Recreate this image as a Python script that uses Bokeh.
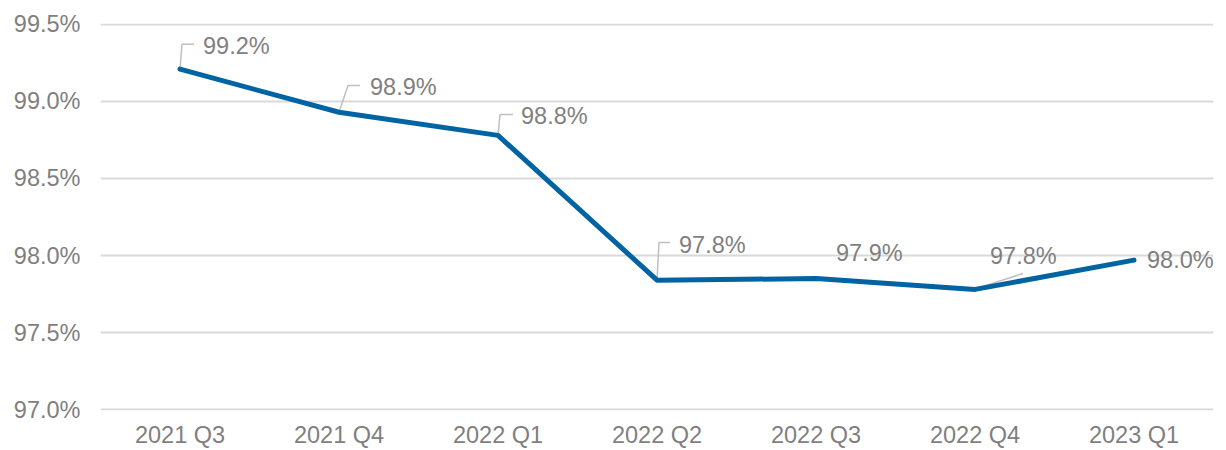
from bokeh.plotting import figure
from bokeh.models import (ColumnDataSource, LabelSet, Range1d, FactorRange,
                          FixedTicker, PrintfTickFormatter)
from bokeh.core.properties import value
from bokeh.embed import file_html
from bokeh.resources import INLINE

# ---- data ----
quarters = ["2021 Q3", "2021 Q4", "2022 Q1", "2022 Q2", "2022 Q3", "2022 Q4", "2023 Q1"]
rate = [99.21, 98.93, 98.78, 97.84, 97.85, 97.78, 97.97]
rate_labels = ["99.2%", "98.9%", "98.8%", "97.8%", "97.9%", "97.8%", "98.0%"]
y_ticks = [97.0, 97.5, 98.0, 98.5, 99.0, 99.5]

# ---- layout / style ----
W, H = 1226, 450
BL, BR, BT, BB = 100, 13, 23, 37
FW, FH = W - BL - BR, H - BT - BB
Y0, Y1 = 97.0, 99.5
PAD = (Y1 - Y0) / (FH - 2)          # 1px of padding top and bottom
TEXT = "#7F7F7F"
FONT = "Liberation Sans"
FS = "23.5px"
LINE = "#0064A3"

# label offsets in screen px (right, up) relative to each point
lab_dx = [23, 31, 23, 22, 20, 15, 13]
lab_dy = [23, 25, 19, 35, 26, 33, 0]
# leader polylines in screen px relative to each point
leaders = {
    0: [(0, 0), (2, 25), (14, 25)],
    1: [(0, 0), (9, 27), (21, 27)],
    2: [(0, 0), (2, 21), (15, 21)],
    3: [(0, 0), (2, 38), (13, 38)],
    5: [(2, 1), (48, 16)],
}

p = figure(width=W, height=H, x_range=FactorRange(*quarters),
           y_range=Range1d(Y0 - PAD, Y1 + PAD), output_backend="svg",
           toolbar_location=None,
           min_border_left=BL, min_border_right=BR, min_border_top=BT,
           min_border_bottom=BB)
p.outline_line_color = None
p.background_fill_color = "white"
p.border_fill_color = "white"

# axes
p.xaxis.axis_line_color = None
p.xaxis.major_tick_line_color = None
p.xaxis.minor_tick_line_color = None
p.xaxis.major_tick_out = 0
p.xaxis.major_tick_in = 0
p.xaxis.major_label_standoff = 11
p.xaxis.major_label_text_color = TEXT
p.xaxis.major_label_text_font = FONT
p.xaxis.major_label_text_font_size = FS

p.yaxis.ticker = FixedTicker(ticks=y_ticks)
p.yaxis.formatter = PrintfTickFormatter(format="%.1f%%")
p.yaxis.axis_line_color = None
p.yaxis.major_tick_line_color = None
p.yaxis.minor_tick_line_color = None
p.yaxis.major_tick_out = 0
p.yaxis.major_tick_in = 0
p.yaxis.major_label_standoff = 20
p.yaxis.major_label_text_color = TEXT
p.yaxis.major_label_text_font = FONT
p.yaxis.major_label_text_font_size = FS

p.xgrid.visible = False
p.ygrid.grid_line_color = "#D9D9D9"
p.ygrid.grid_line_width = 2

# leader lines (screen px -> data units)
px_x = len(quarters) / FW
px_y = (Y1 - Y0 + 2 * PAD) / FH
xs, ys = [], []
for i, pts in leaders.items():
    xs.append([i + 0.5 + dx * px_x for dx, dy in pts])
    ys.append([rate[i] + dy * px_y for dx, dy in pts])
p.multi_line(xs, ys, line_color="#BFBFBF", line_width=1.5)

src = ColumnDataSource(dict(quarter=quarters, rate=rate, label=rate_labels,
                            dx=lab_dx, dy=lab_dy))
p.line(x="quarter", y="rate", source=src, line_color=LINE, line_width=5,
       line_join="round", line_cap="round")

labels = LabelSet(x="quarter", y="rate", text="label", x_offset="dx", y_offset="dy",
                  source=src, text_align="left", text_baseline="middle",
                  text_color=TEXT, text_font=value(FONT), text_font_size=value(FS))
p.add_layout(labels)

open("out.html", "w").write(file_html(p, INLINE))
